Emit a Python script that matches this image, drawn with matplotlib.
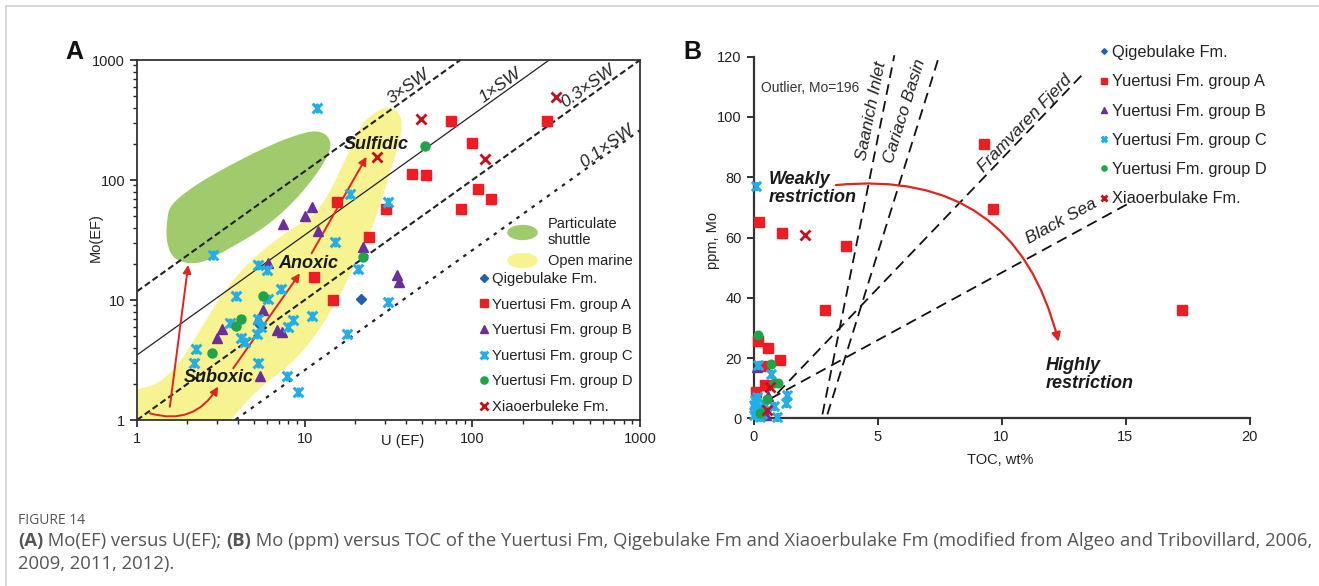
import numpy as np
import matplotlib
matplotlib.use('Agg')
import matplotlib.pyplot as plt
from matplotlib.patches import Polygon, FancyArrowPatch, Rectangle
from matplotlib.path import Path
from matplotlib.ticker import FixedLocator, LogLocator, FuncFormatter, NullFormatter

plt.rcParams['font.family'] = ['Liberation Sans', 'DejaVu Sans']

# ---------------- Panel A: Mo(EF) vs U(EF) ----------------
qige_u = [21.6, 5.4]
qige_mo = [10.1, 6.2]
ya_u = [15.5, 24.3, 30.5, 11.4, 14.8, 74.5, 277, 99, 43.5, 52.9, 108, 129, 85.5]
ya_mo = [65, 33.7, 57, 15.6, 10, 310, 310, 202, 112, 111, 83.6, 69.9, 57.6]
yb_u = [7.45, 10.1, 11.0, 11.96, 22.4, 6.07, 5.66, 5.24, 3.2, 2.99, 6.81, 7.3, 5.41, 35.4, 36.5]
yb_mo = [43, 50, 60, 37.8, 27.8, 20.2, 8.25, 7.0, 5.7, 4.8, 5.6, 5.45, 2.34, 16.2, 14.2]
yc_u = [11.8, 18.6, 31.4, 2.83, 5.24, 5.94, 15.2, 20.9, 3.88, 6.02, 7.22, 11.0, 31.5, 3.59,
        5.3, 5.5, 5.2, 4.17, 4.4, 8.55, 7.98, 2.25, 2.2, 5.24, 17.9, 7.8, 9.08]
yc_mo = [396, 76, 65, 23.7, 19.6, 17.8, 30.6, 18, 10.9, 10.1, 12.4, 7.4, 9.6, 6.4,
         6.9, 6.0, 5.2, 4.8, 4.5, 6.8, 6.0, 3.9, 3.0, 3.0, 5.2, 2.34, 1.72]
yd_u = [52.2, 22.4, 5.66, 4.15, 3.89, 2.79]
yd_mo = [192, 23, 10.9, 6.9, 6.1, 3.64]
xiao_u = [26.9, 49.4, 119, 315]
xiao_mo = [155, 324, 150, 489]

# seawater Mo/U reference lines (label, multiplier)
sw_labels = ['3×SW', '1×SW', '0.3×SW', '0.1×SW']
sw_k = [11.8, 3.48, 1.0, 0.26]
sw_label_u = [41.5, 146, 491, 632]
sw_label_mo = [600, 619, 600, 190]

# outlines of the two fields (U, Mo)
shuttle_u = [1.57, 2.22, 3.59, 5.41, 8.17, 11.5, 13.8, 14.5, 12.3, 9.37, 7.12, 5.27, 3.59, 2.54, 2.01, 1.62, 1.49, 1.51]
shuttle_mo = [61.9, 90.8, 133, 178, 228, 261, 237, 185, 121, 75, 51.1, 36.9, 27.1, 20.7, 20.0, 22.4, 31.6, 46.4]
open_u = [0.7, 1.0, 1.37, 1.80, 2.38, 3.13, 4.53, 8.0, 12.3, 18.6, 21.4, 27.4, 32.3, 37.0, 38.6,
          32.3, 25.2, 21.4, 16.9, 12.3, 8.52, 5.41, 3.59, 2.8, 0.7]
open_mo = [1.75, 1.78, 2.03, 2.99, 5.62, 10.6, 20.3, 38.3, 53.1, 178, 287, 383, 414, 362, 261,
           114, 38.3, 24.6, 12.1, 5.62, 2.99, 1.88, 1.0, 0.6, 0.6]

# ---------------- Panel B: Mo (ppm) vs TOC ----------------
qige_toc = [0.15]
qige_ppm = [2.5]
ya_toc = [0.24, 1.16, 3.72, 2.89, 0.17, 0.6, 1.07, 0.42, 0.46, 0.12, 9.3, 9.64, 17.29]
ya_ppm = [65, 61.4, 57.2, 35.9, 25.6, 23.2, 19.3, 17.4, 11, 8.6, 90.9, 69.4, 35.9]
yb_toc = [0.15, 0.6, 0.5, 0.35]
yb_ppm = [17.0, 7.5, 1.0, 3.0]
yc_toc = [0.12, 0.17, 0.69, 1.34, 1.32, 0.82, 0.93, 0.08, 0.12, 0.04, 0.08, 0.28, 0.04, 0.15, 0.2, 0.35, 0.45]
yc_ppm = [77.1, 17.7, 14.7, 7.7, 5.0, 4.1, 0.3, 6.1, 5.4, 4.5, 2.9, 0.3, 1.0, 7.0, 3.5, 1.5, 4.5]
yd_toc = [0.19, 0.69, 0.82, 0.99, 0.53, 0.26]
yd_ppm = [27.6, 18.0, 11.6, 11.8, 6.3, 1.9]
xiao_toc = [2.06, 0.66, 0.55]
xiao_ppm = [60.8, 10.5, 2.8]

# modern anoxic basins (line ends)
basin_names = ['Saanich Inlet', 'Cariaco Basin', 'Framvaren Fjerd', 'Black Sea']
basin_toc = [(2.78, 5.68), (2.98, 7.50), (0.96, 13.37), (0.70, 15.26)]
basin_mo = [(1.3, 120.5), (1.3, 120.6), (8.3, 115.0), (6.6, 71.9)]
basin_lab_toc = [4.75, 6.1, 10.95, 12.4]
basin_lab_mo = [102, 102, 98, 65.5]

red = '#e3241e'
star = Path([(-1, -1), (1, 1), (-1, 1), (1, -1), (0, -1), (0, 1)],
            [Path.MOVETO, Path.LINETO, Path.MOVETO, Path.LINETO, Path.MOVETO, Path.LINETO])
series = [
    ('Qigebulake Fm.', 'D', '#1f5fb0', 5, 1),
    ('Yuertusi Fm. group A', 's', '#ee1d23', 7, 1),
    ('Yuertusi Fm. group B', '^', '#6b2f9c', 7.5, 1),
    ('Yuertusi Fm. group C', star, '#22aee6', 7, 2.2),
    ('Yuertusi Fm. group D', 'o', '#1ea548', 6.5, 1),
    ('Xiaoerbuleke Fm.', 'x', '#c1121c', 7, 2),
]


def smooth_closed(xs, ys, n=4, log=True):
    p = np.column_stack([xs, ys]).astype(float)
    if log:
        p = np.log10(p)
    for _ in range(n):
        nxt = np.roll(p, -1, axis=0)
        q = np.empty((2 * len(p), 2))
        q[0::2] = 0.75 * p + 0.25 * nxt
        q[1::2] = 0.25 * p + 0.75 * nxt
        p = q
    return 10 ** p if log else p


fig = plt.figure(figsize=(13.19, 5.86), dpi=100)
axA = fig.add_axes([137 / 1319, 1 - 420 / 586, 503 / 1319, 360 / 586])
axB = fig.add_axes([753.5 / 1319, 1 - 418.3 / 586, 496 / 1319, 361.6 / 586])

# ---- panel A
axA.set_xscale('log')
axA.set_yscale('log')
axA.set_xlim(1, 1000)
axA.set_ylim(1, 1000)

axA.add_patch(Polygon(smooth_closed(shuttle_u, shuttle_mo), closed=True, fc='#a0cb6c', ec='none', zorder=1))
axA.add_patch(Polygon(smooth_closed(open_u, open_mo), closed=True, fc='#f8f391', ec='none', zorder=1))

uu = np.array([1, 1000])
styles = ['--', '-', '--', ':']
for lab, k, lu, lm, ls in zip(sw_labels, sw_k, sw_label_u, sw_label_mo, styles):
    if ls == '-':
        axA.plot(uu, k * uu, color='#222', lw=0.9, zorder=2)
    elif ls == '--':
        axA.plot(uu, k * uu, color='#222', lw=1.5, dashes=(3, 1.6), zorder=2)
    else:
        axA.plot(uu, k * uu, color='#222', lw=1.6, dashes=(1.6, 2.6), zorder=2)
    axA.text(lu, lm, lab, rotation=35.6, rotation_mode='anchor', ha='center', va='center',
             fontsize=12.5, style='italic', color='#222', zorder=5)

arrows_A = [((1.57, 1.29), (2.02, 19.6), 0.0),
            ((1.195, 1.137), (3.05, 1.9), 0.38),
            ((3.75, 2.7), (9.37, 16.7), 0.0),
            ((11.0, 24.5), (23.4, 156), 0.0)]
for a, b, rad in arrows_A:
    axA.add_patch(FancyArrowPatch(a, b, arrowstyle='-|>', mutation_scale=12, color=red, lw=1.4,
                                  connectionstyle=f'arc3,rad={rad}', shrinkA=0, shrinkB=0, zorder=3))

A_sets = [(qige_u, qige_mo), (ya_u, ya_mo), (yb_u, yb_mo), (yc_u, yc_mo), (yd_u, yd_mo), (xiao_u, xiao_mo)]
handlesA = []
for (lab, m, c, ms, mew), (x, y) in zip(series, A_sets):
    h, = axA.plot(x, y, ls='none', marker=m, ms=ms, color=c, mec=c, mew=mew, label=lab, zorder=4)
    handlesA.append(h)

for txt, x, y in [('Sulfidic', 26.6, 196), ('Anoxic', 10.5, 20.3), ('Suboxic', 3.08, 2.24)]:
    axA.text(x, y, txt, fontsize=13, weight='bold', style='italic', ha='center', va='center',
             color='#1a1a1a', zorder=5)

ell = Path(np.column_stack([2 * np.cos(np.linspace(0, 2 * np.pi, 60)), np.sin(np.linspace(0, 2 * np.pi, 60))]))
reg_h = [plt.Line2D([], [], ls='none', marker=ell, ms=22, mfc='#a0cb6c', mec='none'),
         plt.Line2D([], [], ls='none', marker=ell, ms=22, mfc='#f8f391', mec='none')]
legR = axA.legend(reg_h, ['Particulate\nshuttle', 'Open marine'], loc='upper left',
                  bbox_to_anchor=(507 / 1319, 1 - 217 / 586), bbox_transform=fig.transFigure,
                  frameon=False, fontsize=10.5, handlelength=2.1, handletextpad=0.7,
                  borderpad=0, borderaxespad=0, labelspacing=0.45, labelcolor='#222')
axA.add_artist(legR)
axA.legend(handles=handlesA, loc='upper left', bbox_to_anchor=(480 / 1319, 1 - 272 / 586),
           bbox_transform=fig.transFigure, frameon=False, fontsize=10.7, handlelength=0.6,
           handletextpad=0.22, borderpad=0, borderaxespad=0, labelspacing=0.78, markerscale=0.8,
           labelcolor='#222')

axA.xaxis.set_major_locator(FixedLocator([1, 10, 100, 1000]))
axA.yaxis.set_major_locator(FixedLocator([1, 10, 100, 1000]))
axA.xaxis.set_minor_locator(LogLocator(base=10, subs=np.arange(2, 10)))
axA.yaxis.set_minor_locator(LogLocator(base=10, subs=np.arange(2, 10)))
fmt = FuncFormatter(lambda v, p: f'{v:g}')
axA.xaxis.set_major_formatter(fmt)
axA.yaxis.set_major_formatter(fmt)
axA.xaxis.set_minor_formatter(NullFormatter())
axA.yaxis.set_minor_formatter(NullFormatter())
axA.tick_params(which='major', direction='out', length=5, width=1.2, labelsize=10.5, colors='#222')
axA.tick_params(which='minor', direction='out', length=3, width=1.0, colors='#222')
axA.tick_params(top=False, right=False, which='both')
for s in axA.spines.values():
    s.set_linewidth(1.3)
    s.set_color('#333')
axA.set_xlabel('U (EF)', fontsize=10.5, color='#222')
axA.set_ylabel('Mo(EF)', fontsize=10.5, color='#222')
axA.xaxis.set_label_coords(0.529, -0.04)
axA.yaxis.set_label_coords(-0.068, 0.506)

# ---- panel B
axB.set_xlim(0, 20)
axB.set_ylim(0, 120)
for (x0, x1), (y0, y1), name, lx, ly in zip(basin_toc, basin_mo, basin_names, basin_lab_toc, basin_lab_mo):
    axB.plot([x0, x1], [y0, y1], color='#111', lw=1.3, dashes=(6, 3.5), zorder=2, clip_on=False)
    p0 = axB.transData.transform((x0, y0))
    p1 = axB.transData.transform((x1, y1))
    ang = np.degrees(np.arctan2(p1[1] - p0[1], p1[0] - p0[0]))
    axB.text(lx, ly, name, rotation=ang, rotation_mode='anchor', ha='center', va='center',
             fontsize=12.5, style='italic', color='#222', zorder=5)

axB.add_patch(FancyArrowPatch((3.32, 77.4), (12.3, 25.4), arrowstyle='-|>', mutation_scale=13,
                              color=red, lw=1.6, connectionstyle='arc3,rad=-0.43',
                              shrinkA=0, shrinkB=0, zorder=3))

B_sets = [(qige_toc, qige_ppm), (ya_toc, ya_ppm), (yb_toc, yb_ppm), (yc_toc, yc_ppm), (yd_toc, yd_ppm), (xiao_toc, xiao_ppm)]
handlesB = []
for (lab, m, c, ms, mew), (x, y) in zip(series, B_sets):
    h, = axB.plot(x, y, ls='none', marker=m, ms=ms * 0.95, color=c, mec=c, mew=mew, label=lab,
                  zorder=4, clip_on=False)
    handlesB.append(h)
labelsB = [s[0] for s in series]
labelsB[-1] = 'Xiaoerbulake Fm.'
axB.legend(handlesB, labelsB, loc='upper left', bbox_to_anchor=(1099 / 1319, 1 - 45 / 586),
           bbox_transform=fig.transFigure, frameon=False, fontsize=11.8, handlelength=0.55,
           handletextpad=0.22, borderpad=0, borderaxespad=0, labelspacing=0.87, markerscale=0.6,
           labelcolor='#222')

axB.text(0.3, 109.6, 'Outlier, Mo=196', fontsize=10, color='#333', ha='left', va='center')
axB.text(0.61, 76.2, 'Weakly\nrestriction', fontsize=13, weight='bold', style='italic',
         ha='left', va='center', linespacing=1.05, color='#1a1a1a')
axB.text(11.8, 14.5, 'Highly\nrestriction', fontsize=13, weight='bold', style='italic',
         ha='left', va='center', linespacing=1.05, color='#1a1a1a')

axB.set_xticks([0, 5, 10, 15, 20])
axB.set_yticks(np.arange(0, 121, 20))
axB.spines['top'].set_visible(False)
axB.spines['right'].set_visible(False)
for s in ['left', 'bottom']:
    axB.spines[s].set_linewidth(1.6)
    axB.spines[s].set_color('#333')
axB.tick_params(direction='out', length=5, width=1.3, labelsize=10.5, colors='#222')
axB.set_xlabel('TOC, wt%', fontsize=10.5, color='#222')
axB.set_ylabel('ppm, Mo', fontsize=10.5, color='#222')
axB.xaxis.set_label_coords(0.497, -0.096)
axB.yaxis.set_label_coords(-0.0675, 0.493)

# panel letters
fig.text(65 / 1319, 1 - 52 / 586, 'A', fontsize=18, weight='bold', ha='left', va='center', color='#111')
fig.text(683 / 1319, 1 - 52 / 586, 'B', fontsize=18, weight='bold', ha='left', va='center', color='#111')

# frame + caption
fig.add_artist(Rectangle((6 / 1319, -0.05), 1.1, 1.05 - 6 / 586, transform=fig.transFigure,
                         fill=False, ec='#cfcfcf', lw=1.2))
cap = fig.add_axes([0, 0, 1, 1])
cap.axis('off')
cap.set_zorder(-1)
cf = ['Open Sans', 'DejaVu Sans']
cap.text(18 / 1319, 1 - 520 / 586, 'FIGURE 14', fontsize=10, family=cf, color='#555', va='center')
pieces = [('(A)', 'bold'), (' Mo(EF) versus U(EF); ', 'normal'), ('(B)', 'bold'),
          (' Mo (ppm) versus TOC of the Yuertusi Fm, Qigebulake Fm and Xiaoerbulake Fm (modified from Algeo and Tribovillard, 2006,', 'normal')]
prev = cap.text(18 / 1319, 1 - 550 / 586, pieces[0][0], fontsize=13.3, family=cf, weight='bold',
                color='#555', va='bottom')
for t, w in pieces[1:]:
    prev = cap.annotate(t, xy=(1, 0), xycoords=prev, fontsize=13.3, family=cf, weight=w,
                        color='#555', va='bottom', ha='left')
cap.text(18 / 1319, 1 - 573 / 586, '2009, 2011, 2012).', fontsize=13.3, family=cf, color='#555', va='bottom')

fig.savefig('out.png', dpi=100)
